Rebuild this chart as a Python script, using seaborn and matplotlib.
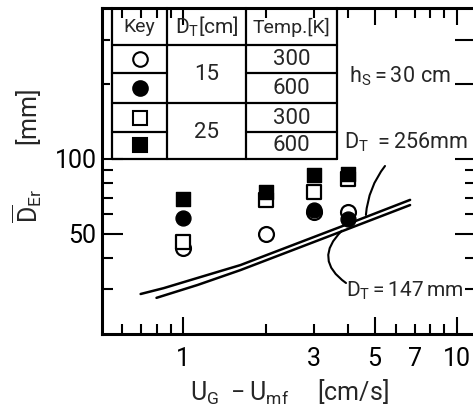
import matplotlib
matplotlib.use('Agg')
import matplotlib.pyplot as plt
import seaborn as sns
import numpy as np
import pandas as pd

# values
u_excess = [1, 2, 3, 4]                       # U_G - U_mf [cm/s]
d15_300 = [44.0, 50.0, 61.0, 61.0]            # open circle
d15_600 = [58.0, np.nan, 62.5, 57.5]          # filled circle
d25_300 = [46.5, 68.5, 74.0, 83.0]            # open square
d25_600 = [69.0, 73.5, 86.0, 87.0]            # filled square

line256_x = [0.70, 0.85, 1.13, 1.62, 3.74, 6.74]
line256_y = [28.7, 30.3, 33.3, 37.5, 53.3, 68.5]
line147_x = [0.80, 1.13, 1.62, 3.74, 6.74]
line147_y = [27.7, 31.2, 35.8, 50.9, 65.3]

xtick_vals = [1, 3, 5, 7, 10]
xtick_labels = ['1', '3', '5', '7', '10']
ytick_vals = [50, 100, 200, 300]
ytick_labels = ['50', '100', '', '']

sns.set_style('ticks')
plt.rcParams['font.family'] = ['Roboto', 'DejaVu Sans']
plt.rcParams['mathtext.fontset'] = 'custom'
plt.rcParams['mathtext.rm'] = 'Roboto'
plt.rcParams['mathtext.it'] = 'Roboto'
plt.rcParams['mathtext.bf'] = 'Roboto'
plt.rcParams['mathtext.default'] = 'rm'

W, H = 473, 411
fig = plt.figure(figsize=(W / 100, H / 100), dpi=100)
# axes box in pixels: left 102, right 476, top 8, bottom 334
L, R, T, B = 102, 476, 8, 334
ax = fig.add_axes([L / W, 1 - B / H, (R - L) / W, (B - T) / H])


def px(x, y):
    # pixel position -> axes fraction
    return (x - L) / (R - L), (B - y) / (B - T)


df = pd.DataFrame({'u': u_excess, 'oc': d15_300, 'fc': d15_600,
                   'os': d25_300, 'fs': d25_600})

sns.lineplot(x=line256_x, y=line256_y, ax=ax, color='black', lw=1.8, sort=False)
sns.lineplot(x=line147_x, y=line147_y, ax=ax, color='black', lw=1.8, sort=False)

sns.scatterplot(data=df, x='u', y='oc', ax=ax, marker='o', s=115,
                facecolor='white', edgecolor='black', linewidth=1.6, zorder=3)
sns.scatterplot(data=df, x='u', y='fc', ax=ax, marker='o', s=115,
                color='black', edgecolor='black', linewidth=1.0, zorder=4)
sns.scatterplot(data=df, x='u', y='os', ax=ax, marker='s', s=95,
                facecolor='white', edgecolor='black', linewidth=1.6, zorder=5)
sns.scatterplot(data=df, x='u', y='fs', ax=ax, marker='s', s=95,
                color='black', edgecolor='black', linewidth=1.0, zorder=6)

ax.set_xscale('log')
ax.set_yscale('log')
ax.set_xlim(0.506, 11.73)
ax.set_ylim(19.83, 403.6)

ax.set_xticks(xtick_vals)
ax.set_xticklabels(xtick_labels)
ax.set_xticks([0.6, 0.7, 0.8, 0.9, 2, 4, 6, 8, 9], minor=True)
ax.set_yticks(ytick_vals)
ax.set_yticklabels(ytick_labels)
ax.set_yticks([30, 40, 60, 70, 80, 90], minor=True)
ax.xaxis.set_minor_formatter(matplotlib.ticker.NullFormatter())
ax.yaxis.set_minor_formatter(matplotlib.ticker.NullFormatter())

ax.tick_params(which='both', direction='in', top=True, right=True,
               width=1.5, colors='black', labelsize=18)
ax.tick_params(axis='x', which='major', pad=9)
ax.tick_params(axis='y', which='major', pad=4)
ax.tick_params(axis='x', which='minor', length=7)
ax.tick_params(axis='y', which='minor', length=8)
for sp in ax.spines.values():
    sp.set_linewidth(2.2)
    sp.set_color('black')

xlen = {1: 12, 3: 7, 5: 12, 7: 7, 10: 12}
for tk, v in zip(ax.xaxis.get_major_ticks(), xtick_vals):
    tk.tick1line.set_markersize(xlen[v])
    tk.tick2line.set_markersize(xlen[v])
ylen = {50: 15, 100: 15, 200: 6, 300: 6}
for tk, v in zip(ax.yaxis.get_major_ticks(), ytick_vals):
    tk.tick1line.set_markersize(ylen[v])
    tk.tick2line.set_markersize(ylen[v] if v < 200 else 15)

ax.set_xlabel(r'$U_G\ -U_{mf}\ \ \ \ [cm/s]$', fontsize=18, labelpad=5)
ax.set_ylabel(r'$\overline{D}_{Er}\ \ \ \ \ \ [mm]$', fontsize=18)
ax.yaxis.set_label_coords(-0.155, 0.545)

# key table in the upper left corner
lw_t = 1.6
cols = [112, 167, 246, 337]
rows = [8, 45, 73.5, 103.5, 132, 159]


def hline(y, x0, x1):
    a0 = px(x0, y)
    a1 = px(x1, y)
    ax.plot([a0[0], a1[0]], [a0[1], a1[1]], transform=ax.transAxes,
            color='black', lw=lw_t, clip_on=False, zorder=7)


def vline(x, y0, y1):
    a0 = px(x, y0)
    a1 = px(x, y1)
    ax.plot([a0[0], a1[0]], [a0[1], a1[1]], transform=ax.transAxes,
            color='black', lw=lw_t, clip_on=False, zorder=7)


for c in cols:
    vline(c, rows[0], rows[-1])
hline(rows[1], cols[0], cols[-1])
hline(rows[3], cols[0], cols[-1])
hline(rows[5], cols[0], cols[-1])
for r in (rows[2], rows[4]):
    hline(r, cols[0], cols[1])
    hline(r, cols[2], cols[3])


def cell(x, y, s, size=15.5):
    ax.text(*px(x, y), s, transform=ax.transAxes, ha='center', va='center',
            fontsize=size, zorder=8)


cell(139.5, 27, 'Key', 14)
cell(206.5, 27, r'$D_T[cm]$', 15)
cell(291.5, 27, 'Temp.[K]', 14)
cell(206.5, 75, '15', 16)
cell(206.5, 132, '25', 16)
for yy, t in zip([59.5, 88.5, 118, 145.5], ['300', '600', '300', '600']):
    cell(291.5, yy, t, 16)

key_styles = [('o', 'white', 10.5), ('o', 'black', 10.5),
              ('s', 'white', 9.5), ('s', 'black', 9.5)]
for yy, (m, fc, ms) in zip([59.5, 88.5, 118, 145.5], key_styles):
    ax.plot(*px(139.5, yy), marker=m, ms=ms, mfc=fc, mec='black', mew=1.5,
            transform=ax.transAxes, clip_on=False, zorder=8)

# annotations
ax.text(*px(349, 82), r'$h_S=30\ cm$', transform=ax.transAxes,
        fontsize=15.5, va='baseline', ha='left')
ax.text(*px(344, 148), r'$D_T\ =256mm$', transform=ax.transAxes,
        fontsize=15.5, va='baseline', ha='left')
ax.text(*px(346, 297), r'$D_T=147\,mm$', transform=ax.transAxes,
        fontsize=15, va='baseline', ha='left')

ax.annotate('', xy=(4.65, 59.6), xytext=px(385, 166), textcoords='axes fraction',
            arrowprops=dict(arrowstyle='-', connectionstyle='arc3,rad=0.15',
                            lw=1.5, color='black', shrinkA=0, shrinkB=0))
ax.annotate('', xy=(3.80, 51.5), xytext=px(346, 283), textcoords='axes fraction',
            arrowprops=dict(arrowstyle='-', connectionstyle='arc3,rad=-0.6',
                            lw=1.5, color='black', shrinkA=0, shrinkB=0))

fig.savefig('out.png', dpi=100)
